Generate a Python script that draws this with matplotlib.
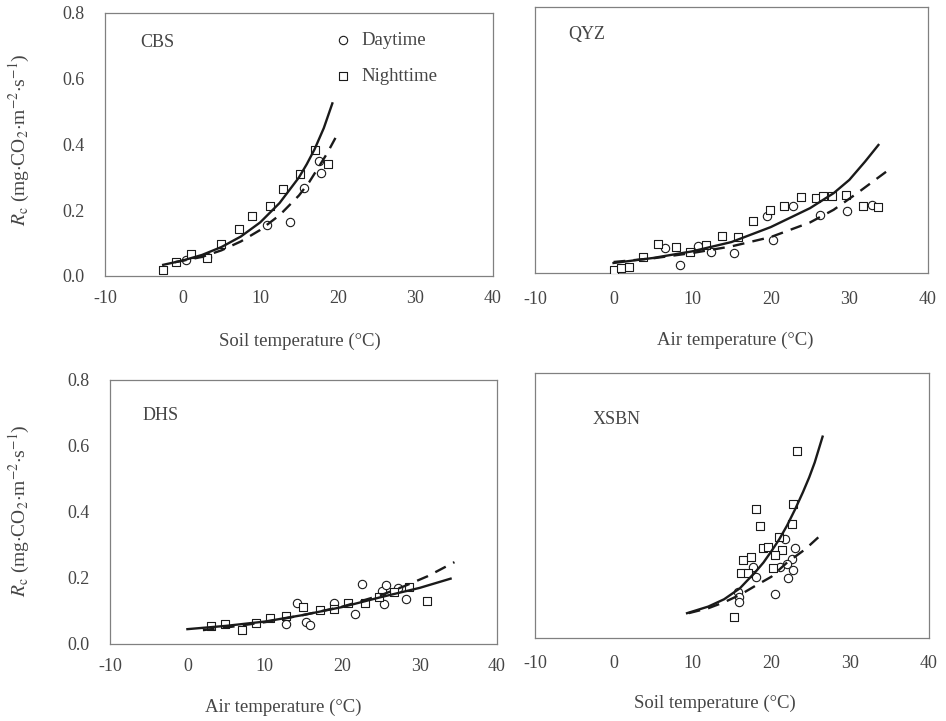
import matplotlib
matplotlib.use("Agg")
import matplotlib.pyplot as plt
from matplotlib.ticker import FormatStrFormatter

plt.rcParams["font.family"] = ["Liberation Serif", "DejaVu Serif"]
plt.rcParams["mathtext.fontset"] = "stix"
plt.rcParams["axes.unicode_minus"] = False

TEXT = "#454545"
INK = "#1a1a1a"

# ---------- CBS (soil temperature) ----------
cbs_night_t = [-2.5, -0.8, 1.1, 3.1, 5.0, 7.3, 9.0, 11.3, 13.0, 15.1, 17.1, 18.8]
cbs_night_r = [0.018, 0.044, 0.066, 0.055, 0.097, 0.144, 0.181, 0.212, 0.265, 0.310, 0.383, 0.341]
cbs_day_t = [0.5, 3.1, 10.9, 13.8, 15.6, 17.6, 17.8]
cbs_day_r = [0.050, 0.057, 0.156, 0.163, 0.268, 0.351, 0.314]
cbs_fit_night_t = [-2.5, 0, 2.5, 5, 7.5, 10, 12.5, 15, 16, 17, 18.2, 19.3]
cbs_fit_night_r = [0.034, 0.047, 0.064, 0.088, 0.120, 0.163, 0.222, 0.300, 0.340, 0.385, 0.450, 0.525]
cbs_fit_day_t = [-1, 2.5, 5, 7.5, 10, 12.5, 15, 16.3, 17.5, 18.6, 19.7]
cbs_fit_day_r = [0.042, 0.058, 0.078, 0.105, 0.140, 0.185, 0.245, 0.285, 0.330, 0.372, 0.420]

# ---------- QYZ (air temperature) ----------
qyz_night_t = [0.0, 1.0, 2.0, 3.7, 5.7, 8.0, 9.7, 11.8, 13.8, 15.8, 17.7, 19.9,
               21.7, 23.8, 25.8, 26.6, 27.8, 29.6, 31.8, 33.7]
qyz_night_r = [0.010, 0.016, 0.017, 0.048, 0.087, 0.078, 0.064, 0.084, 0.112, 0.109, 0.156, 0.190,
               0.202, 0.227, 0.225, 0.232, 0.232, 0.235, 0.202, 0.197]
qyz_day_t = [6.5, 8.5, 10.8, 12.4, 15.3, 19.5, 20.3, 22.8, 26.3, 29.7, 32.9]
qyz_day_r = [0.074, 0.024, 0.082, 0.062, 0.059, 0.171, 0.099, 0.200, 0.174, 0.186, 0.204]
qyz_fit_night_t = [0, 5, 10, 15, 20, 25, 28, 30, 32, 33.7]
qyz_fit_night_r = [0.030, 0.045, 0.065, 0.093, 0.138, 0.195, 0.240, 0.280, 0.335, 0.385]
qyz_fit_day_t = [0, 5, 10, 15, 20, 25, 28, 31, 35]
qyz_fit_day_r = [0.033, 0.044, 0.060, 0.080, 0.108, 0.152, 0.190, 0.240, 0.310]

# ---------- DHS (air temperature) ----------
dhs_night_t = [3.0, 4.9, 7.1, 8.9, 10.7, 12.8, 14.9, 17.1, 18.9, 20.7, 22.9, 24.8, 26.7, 28.6, 30.9]
dhs_night_r = [0.055, 0.062, 0.042, 0.063, 0.078, 0.086, 0.111, 0.103, 0.105, 0.123, 0.123,
               0.143, 0.158, 0.172, 0.130]
dhs_day_t = [12.7, 14.1, 15.3, 15.8, 19.0, 21.6, 22.6, 25.1, 25.4, 25.7, 27.2, 28.2]
dhs_day_r = [0.061, 0.125, 0.068, 0.058, 0.125, 0.091, 0.182, 0.161, 0.121, 0.179, 0.171, 0.135]
dhs_fit_night_t = [0, 5, 10, 15, 20, 25, 30, 34]
dhs_fit_night_r = [0.045, 0.055, 0.068, 0.088, 0.112, 0.142, 0.170, 0.198]
dhs_fit_day_t = [2, 5, 10, 15, 20, 25, 28, 31, 34.5]
dhs_fit_day_r = [0.042, 0.050, 0.066, 0.088, 0.113, 0.148, 0.175, 0.205, 0.248]

# ---------- XSBN (soil temperature) ----------
xsbn_night_t = [23.3, 18.0, 18.55, 22.8, 22.6, 21.0, 19.0, 19.6, 21.4, 20.5, 16.4, 17.4,
                16.1, 17.0, 20.2, 15.2]
xsbn_night_r = [0.565, 0.389, 0.339, 0.404, 0.343, 0.306, 0.273, 0.274, 0.266, 0.250, 0.235,
                0.244, 0.197, 0.197, 0.210, 0.064]
xsbn_day_t = [21.7, 23.0, 22.6, 21.1, 22.0, 22.8, 22.1, 20.5, 17.7, 18.1, 15.8, 15.9, 15.9]
xsbn_day_r = [0.299, 0.271, 0.238, 0.215, 0.223, 0.205, 0.180, 0.132, 0.215, 0.185, 0.140,
              0.125, 0.110]
xsbn_fit_night_t = [9.3, 12, 14, 16, 18, 19, 20, 21, 22, 23, 24, 24.8, 25.5, 26.5]
xsbn_fit_night_r = [0.075, 0.095, 0.117, 0.150, 0.200, 0.228, 0.262, 0.298, 0.340, 0.388,
                    0.440, 0.485, 0.530, 0.608]
xsbn_fit_day_t = [9.5, 12, 14, 16, 18, 20, 22, 24.3, 26.6]
xsbn_fit_day_r = [0.075, 0.090, 0.108, 0.130, 0.158, 0.185, 0.228, 0.268, 0.318]

x_ticks = [-10, 0, 10, 20, 30, 40]
y_ticks = [0.0, 0.2, 0.4, 0.6, 0.8]
ylabel = r"$R_{\rm c}$ (mg$\cdot$CO$_2$$\cdot$m$^{-2}$$\cdot$s$^{-1}$)"


def draw_panel(ax, name, name_pos, night, day, fit_night, fit_day, xpad, show_y):
    day_pts = ax.scatter(day[0], day[1], s=36, marker="o", facecolors="white",
                         edgecolors=INK, linewidths=0.8, zorder=3, label="Daytime")
    night_pts = ax.scatter(night[0], night[1], s=34, marker="s", facecolors="white",
                           edgecolors=INK, linewidths=0.8, zorder=3, label="Nighttime")
    ax.plot(fit_night[0], fit_night[1], color=INK, lw=1.7, zorder=4)
    ax.plot(fit_day[0], fit_day[1], color=INK, lw=1.7, ls=(0, (5, 3.5)), zorder=4)

    ax.set_xlim(-10, 40)
    ax.set_ylim(0, 0.8)
    ax.set_xticks(x_ticks)
    ax.set_yticks(y_ticks)
    ax.yaxis.set_major_formatter(FormatStrFormatter("%.1f"))
    ax.tick_params(axis="x", length=0, pad=xpad, labelsize=13, labelcolor=TEXT)
    ax.tick_params(axis="y", length=0, pad=15, labelsize=13, labelcolor=TEXT,
                   labelleft=show_y)
    for sp in ax.spines.values():
        sp.set_color("#808080")
        sp.set_linewidth(0.9)
    ax.text(name_pos[0], name_pos[1], name, transform=ax.transAxes, fontsize=13,
            color=TEXT, ha="left", va="center")
    return day_pts, night_pts


fig = plt.figure(figsize=(9.46, 7.21), dpi=100)

ax1 = fig.add_axes([0.1110, 0.6172, 0.4101, 0.3648])
ax2 = fig.add_axes([0.5655, 0.6214, 0.4154, 0.3689])
ax3 = fig.add_axes([0.1163, 0.1068, 0.4091, 0.3662])
ax4 = fig.add_axes([0.5655, 0.1151, 0.4165, 0.3675])

d, n = draw_panel(ax1, "CBS", (0.09, 0.886),
                  (cbs_night_t, cbs_night_r), (cbs_day_t, cbs_day_r),
                  (cbs_fit_night_t, cbs_fit_night_r), (cbs_fit_day_t, cbs_fit_day_r),
                  10, True)
draw_panel(ax2, "QYZ", (0.084, 0.895),
           (qyz_night_t, qyz_night_r), (qyz_day_t, qyz_day_r),
           (qyz_fit_night_t, qyz_fit_night_r), (qyz_fit_day_t, qyz_fit_day_r),
           13, False)
draw_panel(ax3, "DHS", (0.083, 0.867),
           (dhs_night_t, dhs_night_r), (dhs_day_t, dhs_day_r),
           (dhs_fit_night_t, dhs_fit_night_r), (dhs_fit_day_t, dhs_fit_day_r),
           10, True)
draw_panel(ax4, "XSBN", (0.147, 0.823),
           (xsbn_night_t, xsbn_night_r), (xsbn_day_t, xsbn_day_r),
           (xsbn_fit_night_t, xsbn_fit_night_r), (xsbn_fit_day_t, xsbn_fit_day_r),
           12, False)

leg = ax1.legend(handles=[d, n], loc="upper left", bbox_to_anchor=(0.593, 0.93),
                 frameon=False, fontsize=13.5, scatterpoints=1, handlelength=0.8,
                 handletextpad=0.6, labelspacing=1.05, borderpad=0, borderaxespad=0)
for t in leg.get_texts():
    t.set_color(TEXT)

# axis titles
fig.text(0.021, 0.806, ylabel, rotation=90, ha="center", va="center", fontsize=14, color=TEXT)
fig.text(0.021, 0.291, ylabel, rotation=90, ha="center", va="center", fontsize=14, color=TEXT)
fig.text(0.317, 0.526, "Soil temperature (°C)", ha="center", va="center", fontsize=13.5, color=TEXT)
fig.text(0.777, 0.528, "Air temperature (°C)", ha="center", va="center", fontsize=13.5, color=TEXT)
fig.text(0.299, 0.019, "Air temperature (°C)", ha="center", va="center", fontsize=13.5, color=TEXT)
fig.text(0.756, 0.025, "Soil temperature (°C)", ha="center", va="center", fontsize=13.5, color=TEXT)

fig.savefig("out.png", dpi=100)
